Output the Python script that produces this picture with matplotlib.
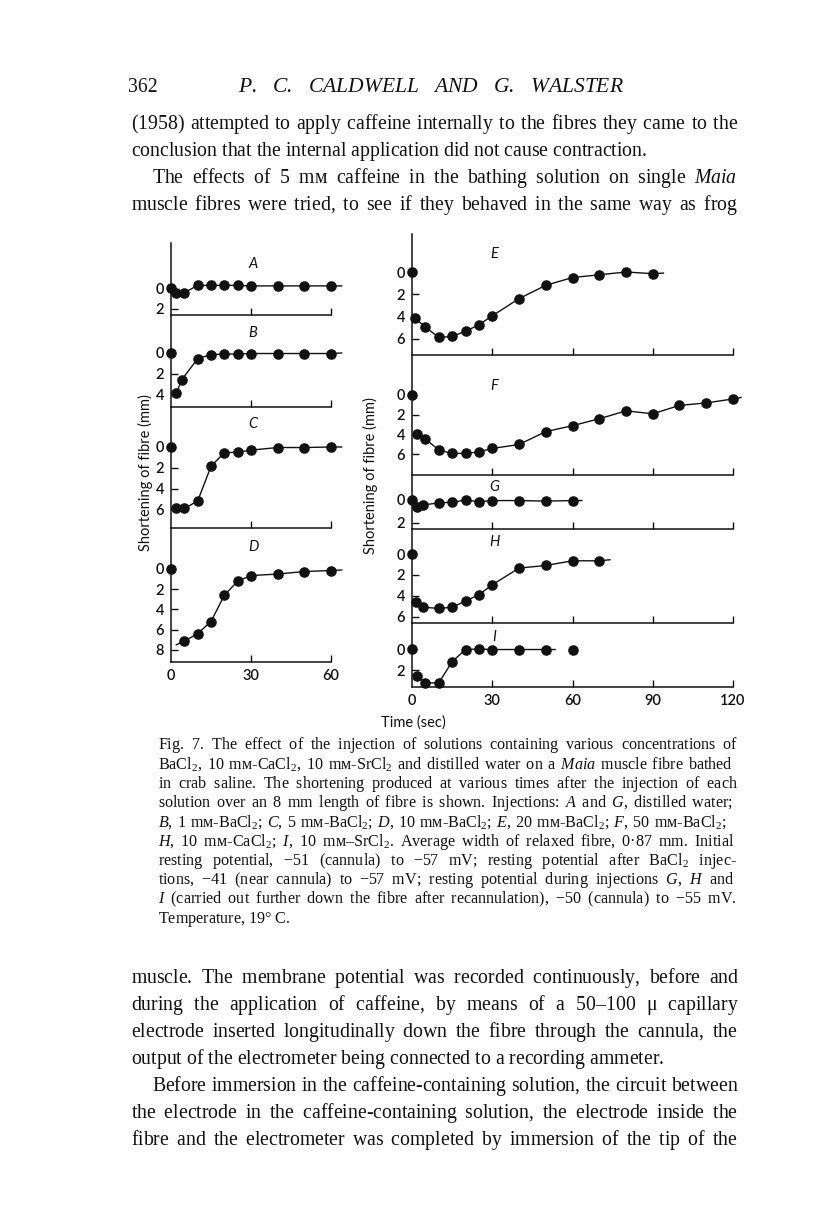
import matplotlib
matplotlib.use("Agg")
import matplotlib.pyplot as plt
from matplotlib import font_manager
from matplotlib.ft2font import FT2Font

plt.rcParams.update({
    "mathtext.fontset": "custom",
    "mathtext.rm": "Liberation Serif",
    "mathtext.it": "Liberation Serif:italic",
    "mathtext.bf": "Liberation Serif:bold",
})

# ------------------ data ------------------
# time after injection (sec) and shortening of fibre (mm)
A_t = [0, 2, 5, 10, 15, 20, 25, 30, 40, 50, 60]
A_y = [0, 0.45, 0.45, -0.25, -0.25, -0.25, -0.25, -0.2, -0.2, -0.2, -0.2]
B_t = [0, 2, 4, 10, 15, 20, 25, 30, 40, 50, 60]
B_y = [0, 3.9, 2.6, 0.55, 0.15, 0.1, 0.1, 0.05, 0.05, 0.05, 0.05]
C_t = [0, 2, 5, 10, 15, 20, 25, 30, 40, 50, 60]
C_y = [0, 5.9, 5.9, 5.2, 1.85, 0.55, 0.5, 0.3, 0.05, 0.05, 0.0]
D_t = [0, 5, 10, 15, 20, 25, 30, 40, 50, 60]
D_y = [0, 7.15, 6.4, 5.2, 2.6, 1.2, 0.65, 0.5, 0.25, 0.15]
E_t = [0, 1, 5, 10, 15, 20, 25, 30, 40, 50, 60, 70, 80, 90]
E_y = [0, 4.15, 4.95, 5.9, 5.8, 5.35, 4.75, 3.95, 2.4, 1.2, 0.5, 0.25, 0.0, 0.15]
F_t = [0, 2, 5, 10, 15, 20, 25, 30, 40, 50, 60, 70, 80, 90, 100, 110, 120]
F_y = [0, 3.95, 4.45, 5.55, 5.9, 5.9, 5.75, 5.4, 5.0, 3.7, 3.1, 2.4, 1.6, 1.9, 1.05, 0.8, 0.4]
G_t = [0, 2, 4, 10, 15, 20, 25, 30, 40, 50, 60]
G_y = [0, 0.6, 0.45, 0.25, 0.2, 0.0, 0.15, 0.05, 0.05, 0.1, 0.05]
H_t = [0, 1.5, 4, 10, 15, 20, 25, 30, 40, 50, 60, 70]
H_y = [0, 4.55, 5.1, 5.2, 5.1, 4.5, 3.9, 2.95, 1.35, 1.1, 0.65, 0.65]
I_t = [0, 2, 5, 10, 15, 20, 25, 30, 40, 50, 60]
I_y = [0, 2.55, 3.2, 3.2, 1.2, 0.05, 0.0, 0.05, 0.05, 0.05, 0.05]

# hand-drawn curve: which dots it joins, and where the pen started / stopped
line_from = {"A": 0, "B": 1, "C": 1, "D": 1, "E": 1, "F": 1, "G": 0, "H": 1, "I": 1}
line_to = {"A": 11, "B": 11, "C": 11, "D": 10, "E": 14, "F": 17, "G": 11, "H": 12, "I": 10}
line_lead = {"D": (2, 7.5)}
line_tail = {"A": (64, -0.2), "B": (64, 0.0), "C": (64, 0.0), "D": (64, 0.1), "E": (94, 0.1),
             "F": (123, 0.25), "G": (63.5, 0.05), "H": (74, 0.55), "I": (53.5, 0.05)}

y_ticks = {"A": [0, 2], "B": [0, 2, 4], "C": [0, 2, 4, 6], "D": [0, 2, 4, 6, 8], "E": [0, 2, 4, 6],
           "F": [0, 2, 4, 6], "G": [0, 2], "H": [0, 2, 4, 6], "I": [0, 2]}
left_xticks = [0, 30, 60]
right_xticks = [0, 30, 60, 90, 120]

data = {"A": (A_t, A_y), "B": (B_t, B_y), "C": (C_t, C_y), "D": (D_t, D_y), "E": (E_t, E_y),
        "F": (F_t, F_y), "G": (G_t, G_y), "H": (H_t, H_y), "I": (I_t, I_y)}

# ------------------ page layout (pixels, top-down) ------------------
W, H = 816, 1221
# name: (x0 px, x1 px, xmax, top px, zero px, px per mm, bottom px, letter y px)
layout = {
    "A": (171, 331, 60, 243, 288, 10.5, 315, 264),
    "B": (171, 331, 60, 315, 353, 10.3, 407, 333),
    "C": (171, 331, 60, 407, 447, 10.4, 528, 424),
    "D": (171, 331, 60, 528, 569, 10.1, 662, 547),
    "E": (412, 733, 120, 234, 272, 11.1, 355, 254),
    "F": (412, 733, 120, 355, 395, 9.9, 475, 386),
    "G": (412, 733, 120, 475, 500, 11.3, 529, 487),
    "H": (412, 733, 120, 529, 554, 10.45, 623, 542),
    "I": (412, 733, 120, 623, 649, 10.6, 687, 637),
}

SANS = ["Lato", "DejaVu Sans"]
SERIF = "Liberation Serif"
INK = "#111111"

serif_font = FT2Font(font_manager.findfont(SERIF))
MM = "ᴍ" if serif_font.get_char_index(ord("ᴍ")) else "M"


def fy(py):
    return 1 - py / H


fig = plt.figure(figsize=(W / 100, H / 100), dpi=100)
fig.patch.set_facecolor("white")
rend = fig.canvas.get_renderer()

for name, (x0, x1, xmax, top, zero, s, bot, ly) in layout.items():
    ax = fig.add_axes([x0 / W, fy(bot), (x1 - x0) / W, (bot - top) / H])
    ax.patch.set_visible(False)
    ax.set_xlim(0, xmax)
    ax.set_ylim((bot - zero) / s, (top - zero) / s)
    for sp in ["top", "right"]:
        ax.spines[sp].set_visible(False)
    for sp in ["left", "bottom"]:
        ax.spines[sp].set_linewidth(1.1)
        ax.spines[sp].set_color(INK)
    t, y = data[name]
    lt = t[line_from[name]:line_to[name]]
    lyv = y[line_from[name]:line_to[name]]
    if name in line_lead:
        lt = [line_lead[name][0]] + lt
        lyv = [line_lead[name][1]] + lyv
    lt = lt + [line_tail[name][0]]
    lyv = lyv + [line_tail[name][1]]
    ax.plot(lt, lyv, color=INK, lw=1.0, clip_on=False, zorder=2)
    ax.plot(t, y, "o", color=INK, ms=6.6, mec=INK, clip_on=False, zorder=3)

    ax.set_yticks(y_ticks[name])
    ax.set_yticklabels([str(v) for v in y_ticks[name]], fontfamily=SANS, fontsize=10.5,
                       fontweight="semibold")
    ax.tick_params(axis="y", direction="in", length=5, width=1.0, pad=5, colors=INK)
    ax.yaxis.get_major_ticks()[0].tick1line.set_visible(False)

    ticks = left_xticks if xmax == 60 else right_xticks
    ax.set_xticks(ticks)
    if name in ("D", "I"):
        ax.set_xticklabels([str(v) for v in ticks], fontfamily=SANS, fontsize=10.5,
                           fontweight="semibold")
    else:
        ax.set_xticklabels([""] * len(ticks))
    ax.tick_params(axis="x", direction="in", length=5, width=1.0, pad=5, colors=INK)
    ax.xaxis.get_major_ticks()[0].tick1line.set_visible(False)

    fig.text((x0 + 82) / W, fy(ly), name, fontfamily=SANS, style="italic", fontsize=10.5,
             ha="center", va="center", color=INK)

fig.text(145 / W, fy(473), "Shortening of fibre (mm)", rotation=90, fontfamily=SANS,
         fontsize=10.5, ha="center", va="center", color=INK)
fig.text(370 / W, fy(476), "Shortening of fibre (mm)", rotation=90, fontfamily=SANS,
         fontsize=10.5, ha="center", va="center", color=INK)
fig.text(413 / W, fy(723), "Time (sec)", fontfamily=SANS, fontsize=10.5,
         ha="center", va="center", color=INK)


# ------------------ page text (one Text per line, justified with \hspace) ------------------
def token(w):
    w = w.replace("mM", "m" + MM)
    if w.startswith("_"):
        core = w[1:].rstrip(",.;")
        return r"$\mathit{" + core + "}$" + w[1 + len(core):]
    return w.replace("₂", "$_2$")


def measure(s, size, style):
    t = fig.text(0, 0, s, fontfamily=SERIF, fontsize=size, style=style)
    w = t.get_window_extent(rend).width
    t.remove()
    return w


def put_line(text, x0, x1, base, size, justify=True, style="normal"):
    toks = [token(w) for w in text.split(" ")]
    while True:
        widths = [measure(t, size, style) for t in toks]
        unit = (measure(r"a$\hspace{20}$a", size, style)
                - measure(r"a$\hspace{0}$a", size, style)) / 20
        space = measure("a a", size, style) - measure("aa", size, style)
        gap = space
        if justify and len(toks) > 1:
            gap = (x1 - x0 - sum(widths)) / (len(toks) - 1)
            if gap < 0.6 * space:
                size -= 0.2
                continue
        break
    line = (r"$\hspace{%.3f}$" % (gap / unit)).join(toks).replace("$$", "")
    fig.text(x0 / W, fy(base), line, fontfamily=SERIF, fontsize=size, style=style,
             va="baseline", ha="left", color=INK)


BODY = 14.2
CAP = 11.6
fig.text(128 / W, fy(92), "362", fontfamily=SERIF, fontsize=BODY, va="baseline", color=INK)
put_line("P. C. CALDWELL AND G. WALSTER", 238, 618, 92, 15.5, style="italic")

top_par = [
    ("(1958) attempted to apply caffeine internally to the fibres they came to the", 131, True),
    ("conclusion that the internal application did not cause contraction.", 131, False),
    ("The effects of 5 mM caffeine in the bathing solution on single _Maia", 152, True),
    ("muscle fibres were tried, to see if they behaved in the same way as frog", 131, True),
]
for i, (txt, x0, j) in enumerate(top_par):
    put_line(txt, x0, 737, 129 + 27 * i, BODY, j)

caption = [
    ("Fig. 7. The effect of the injection of solutions containing various concentrations of", True),
    ("BaCl₂, 10 mM-CaCl₂, 10 mM-SrCl₂ and distilled water on a _Maia muscle fibre bathed", True),
    ("in crab saline. The shortening produced at various times after the injection of each", True),
    ("solution over an 8 mm length of fibre is shown. Injections: _A and _G, distilled water;", True),
    ("_B, 1 mM-BaCl₂; _C, 5 mM-BaCl₂; _D, 10 mM-BaCl₂; _E, 20 mM-BaCl₂; _F, 50 mM-BaCl₂;", True),
    ("_H, 10 mM-CaCl₂; _I, 10 mM–SrCl₂. Average width of relaxed fibre, 0·87 mm. Initial", True),
    ("resting potential, −51 (cannula) to −57 mV; resting potential after BaCl₂ injec-", True),
    ("tions, −41 (near cannula) to −57 mV; resting potential during injections _G, _H and", True),
    ("_I (carried out further down the fibre after recannulation), −50 (cannula) to −55 mV.", True),
    ("Temperature, 19° C.", False),
]
for i, (txt, j) in enumerate(caption):
    put_line(txt, 158, 735, 749 + 19.3 * i, CAP, j)

bottom_par = [
    ("muscle. The membrane potential was recorded continuously, before and", 131, True),
    ("during the application of caffeine, by means of a 50–100 μ capillary", 131, True),
    ("electrode inserted longitudinally down the fibre through the cannula, the", 131, True),
    ("output of the electrometer being connected to a recording ammeter.", 131, False),
    ("Before immersion in the caffeine-containing solution, the circuit between", 152, True),
    ("the electrode in the caffeine-containing solution, the electrode inside the", 131, True),
    ("fibre and the electrometer was completed by immersion of the tip of the", 131, True),
]
for i, (txt, x0, j) in enumerate(bottom_par):
    put_line(txt, x0, 737, 983 + 27 * i, BODY, j)

fig.savefig("out.png", dpi=100, facecolor="white")
